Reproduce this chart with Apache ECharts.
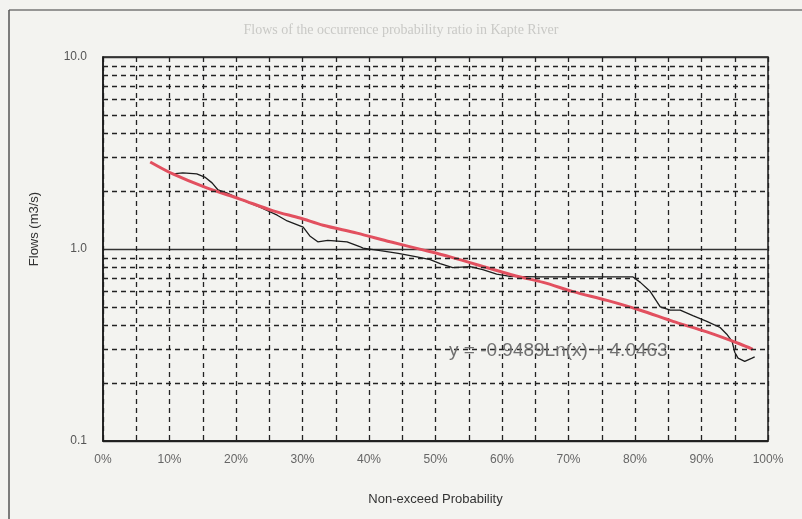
<!DOCTYPE html>
<html>
<head>
<meta charset="utf-8">
<script src="https://cdn.jsdelivr.net/npm/echarts@6/dist/echarts.min.js"></script>
<style>
  html, body { margin: 0; padding: 0; background: #f3f3f0; }
  #chart { width: 802px; height: 519px; }
</style>
</head>
<body>
<div id="chart"></div>
<script>
// observed flow duration curve (non-exceed probability %, flow m3/s)
const obsProb = [10.5, 12.0, 14.1, 15.3, 16.4, 17.3, 18.6, 20.6, 23.6, 26.2, 27.7, 30.1, 31.1, 32.3, 33.8,
  36.7, 38.6, 39.1, 41.7, 44.4, 47.2, 49.2, 50.7, 52.6, 55.2, 57.1, 59.2, 61.2, 65.7, 70.7, 75.8, 79.7,
  80.8, 82.3, 83.8, 85.3, 86.8, 88.7, 90.8, 92.8, 93.8, 94.6, 95.0, 95.5, 96.5, 97.6, 98.0];
const obsFlow = [2.46, 2.49, 2.46, 2.37, 2.21, 2.03, 1.96, 1.82, 1.65, 1.50, 1.40, 1.30, 1.17, 1.09, 1.11,
  1.09, 1.03, 1.01, 0.98, 0.95, 0.91, 0.88, 0.84, 0.80, 0.81, 0.78, 0.74, 0.72, 0.715, 0.715, 0.715, 0.715,
  0.67, 0.60, 0.50, 0.48, 0.48, 0.45, 0.42, 0.39, 0.36, 0.33, 0.29, 0.27, 0.26, 0.27, 0.274];

// logarithmic trend line
const trendProb = [7.1, 10.5, 15.6, 20.6, 25.6, 29.6, 33.1, 38.2, 43.2, 48.1, 52.2, 61.7, 66.2, 70.7, 75.8, 80.8, 85.7, 90.8, 95.8, 97.7];
const trendFlow = [2.84, 2.46, 2.08, 1.82, 1.58, 1.45, 1.33, 1.21, 1.09, 0.99, 0.91, 0.73, 0.67, 0.60, 0.54, 0.48, 0.42, 0.37, 0.32, 0.30];

const minorLevels = [0.2, 0.3, 0.4, 0.5, 0.6, 0.7, 0.8, 0.9, 2, 3, 4, 5, 6, 7, 8, 9];
const xTicks = ['0%', '10%', '20%', '30%', '40%', '50%', '60%', '70%', '80%', '90%', '100%'];
const equation = 'y = -0.9489Ln(x) + 4.0463';

const narrow = '"Liberation Sans Narrow", "Arial Narrow", sans-serif';
const chart = echarts.init(document.getElementById('chart'));

chart.setOption({
  backgroundColor: '#f3f3f0',
  animation: false,
  grid: {
    left: 103, right: 34, top: 57, bottom: 78,
    show: true, borderColor: '#1a1a1a', borderWidth: 1.5, backgroundColor: 'transparent'
  },
  xAxis: {
    type: 'value', min: 0, max: 100, interval: 5,
    name: 'Non-exceed Probability', nameLocation: 'middle', nameGap: 52,
    nameTextStyle: { color: '#333', fontSize: 13, fontFamily: narrow },
    axisLine: { show: true, lineStyle: { color: '#1a1a1a', width: 1.5 } },
    axisTick: { show: false },
    axisLabel: {
      color: '#666', fontSize: 12, fontFamily: narrow, margin: 13,
      formatter: v => (v % 10 === 0 ? xTicks[v / 10] : '')
    },
    splitLine: { show: true, lineStyle: { color: '#222', type: [5, 4], width: 1.3 } }
  },
  yAxis: {
    type: 'log', logBase: 10, min: 0.1, max: 10,
    name: 'Flows (m3/s)', nameLocation: 'middle', nameGap: 62, nameRotate: 90,
    nameTextStyle: { color: '#333', fontSize: 13, fontFamily: narrow, padding: [0, 0, 0, 40] },
    axisLine: { show: true, lineStyle: { color: '#1a1a1a', width: 1.5 } },
    axisTick: { show: false },
    axisLabel: {
      color: '#555', fontSize: 12, fontFamily: narrow, margin: 16,
      formatter: v => (v >= 1 ? v.toFixed(1) : String(v))
    },
    splitLine: { show: true, lineStyle: { color: '#333', type: 'solid', width: 1.3 } }
  },
  graphic: [
    { type: 'line', shape: { x1: 9, y1: 10, x2: 802, y2: 10 }, style: { stroke: '#777', lineWidth: 1.5 } },
    { type: 'line', shape: { x1: 9, y1: 10, x2: 9, y2: 519 }, style: { stroke: '#555', lineWidth: 1.5 } },
    {
      type: 'text', left: 'center', top: 23, z: 0,
      style: { text: 'Flows of the occurrence probability ratio in Kapte River', fill: '#c9c9c6', font: '14px "Liberation Serif", serif' }
    },
    {
      type: 'text', left: 449, top: 341, z: 100,
      style: { text: equation, fill: '#707070', font: '19px "Liberation Sans", Arial, sans-serif' }
    }
  ],
  series: [
    {
      type: 'line', data: [], silent: true,
      markLine: {
        silent: true, symbol: 'none', label: { show: false },
        lineStyle: { color: '#222', type: [5, 4], width: 1.3 },
        data: minorLevels.map(v => ({ yAxis: v }))
      }
    },
    {
      name: 'Observed', type: 'line', symbol: 'none', z: 3,
      lineStyle: { color: '#1c1c1c', width: 1.3 },
      data: obsProb.map((p, i) => [p, obsFlow[i]])
    },
    {
      name: 'Trend', type: 'line', symbol: 'none', smooth: 0.3, z: 4,
      lineStyle: { color: '#e2505f', width: 3 },
      data: trendProb.map((p, i) => [p, trendFlow[i]])
    }
  ]
});
</script>
</body>
</html>
